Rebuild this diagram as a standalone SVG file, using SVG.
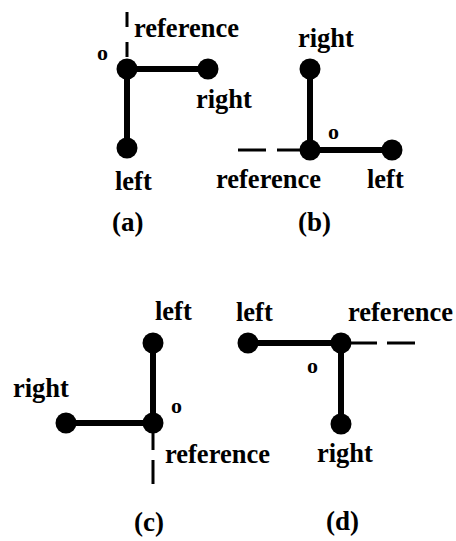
<svg xmlns="http://www.w3.org/2000/svg" width="456" height="541" viewBox="0 0 456 541">
<style>
text{font-family:"Liberation Serif","Times New Roman",serif;font-weight:bold;fill:#000}
.lbl{font-size:26.5px}
.o{font-size:22px}
.cap{font-size:27px}
.dot{fill:#000}
.arm{stroke:#000;stroke-width:6;fill:none}
.ref{stroke:#000;stroke-width:3;fill:none}
</style>
<rect width="456" height="541" fill="#fff"/>
<g id="connectors">
<line class="ref" x1="127" y1="12" x2="127" y2="69" stroke-dasharray="15 15"/>
<line class="arm" x1="127" y1="69" x2="208" y2="69"/>
<line class="arm" x1="127" y1="69" x2="127" y2="148"/>
<line class="ref" x1="238" y1="150" x2="310" y2="150" stroke-dasharray="28 11"/>
<line class="arm" x1="310" y1="150" x2="310" y2="69"/>
<line class="arm" x1="310" y1="150" x2="392" y2="150"/>
<line class="ref" x1="153" y1="484" x2="153" y2="423" stroke-dasharray="24 10"/>
<line class="arm" x1="153" y1="423" x2="153" y2="343"/>
<line class="arm" x1="153" y1="423" x2="66" y2="423"/>
<line class="ref" x1="415" y1="343" x2="341" y2="343" stroke-dasharray="28 10"/>
<line class="arm" x1="341" y1="343" x2="248" y2="343"/>
<line class="arm" x1="341" y1="343" x2="341" y2="424"/>
</g>
<g id="panel-a">
<g id="a-origin"><circle class="dot" cx="127" cy="69" r="10.5"/><text class="o" x="97" y="60">o</text><text class="lbl" x="134" y="37">reference</text></g>
<g id="a-right"><circle class="dot" cx="208" cy="69" r="10.5"/><text class="lbl" x="196" y="108">right</text></g>
<g id="a-left"><circle class="dot" cx="127" cy="148" r="10.5"/><text class="lbl" x="115" y="190">left</text></g>
<text class="cap" x="112" y="231">(a)</text>
</g>
<g id="panel-b">
<g id="b-origin"><circle class="dot" cx="310" cy="150" r="10.5"/><text class="o" x="328" y="139">o</text><text class="lbl" x="216" y="188">reference</text></g>
<g id="b-right"><circle class="dot" cx="310" cy="69" r="10.5"/><text class="lbl" x="298" y="47">right</text></g>
<g id="b-left"><circle class="dot" cx="392" cy="150" r="10.5"/><text class="lbl" x="367" y="188">left</text></g>
<text class="cap" x="298" y="231">(b)</text>
</g>
<g id="panel-c">
<g id="c-origin"><circle class="dot" cx="153" cy="423" r="10.5"/><text class="o" x="171" y="413">o</text><text class="lbl" x="165" y="463">reference</text></g>
<g id="c-left"><circle class="dot" cx="153" cy="343" r="10.5"/><text class="lbl" x="155" y="320">left</text></g>
<g id="c-right"><circle class="dot" cx="66" cy="423" r="10.5"/><text class="lbl" x="13" y="397">right</text></g>
<text class="cap" x="134" y="531">(c)</text>
</g>
<g id="panel-d">
<g id="d-origin"><circle class="dot" cx="341" cy="343" r="10.5"/><text class="o" x="307" y="373">o</text><text class="lbl" x="348" y="321">reference</text></g>
<g id="d-left"><circle class="dot" cx="248" cy="343" r="10.5"/><text class="lbl" x="236" y="321">left</text></g>
<g id="d-right"><circle class="dot" cx="341" cy="424" r="10.5"/><text class="lbl" x="317" y="462">right</text></g>
<text class="cap" x="326" y="530">(d)</text>
</g>
</svg>
